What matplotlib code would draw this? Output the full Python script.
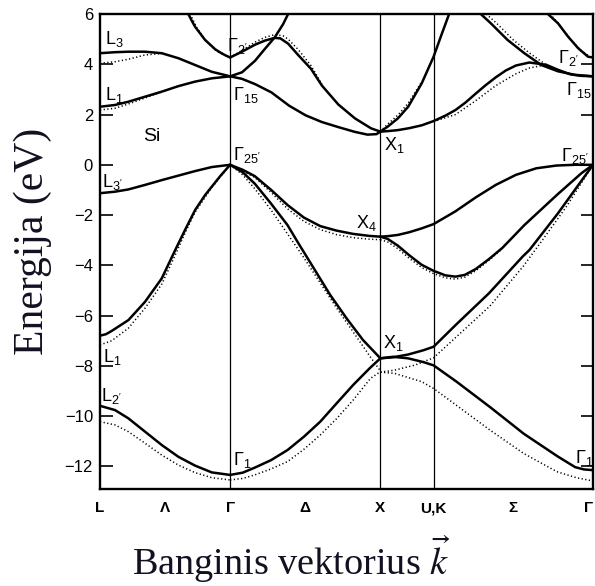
import matplotlib
matplotlib.use("Agg")
import matplotlib.pyplot as plt

plt.rcParams["font.family"] = ["Liberation Sans", "DejaVu Sans"]
plt.rcParams["mathtext.fontset"] = "custom"
plt.rcParams["mathtext.rm"] = "Liberation Sans"
plt.rcParams["mathtext.it"] = "Liberation Sans:italic"
plt.rcParams["mathtext.bf"] = "Liberation Sans:bold"

# ---- symmetry points along the path L - Gamma - X - U,K - Gamma (units of 2pi/a)
k_points = [0.0, 0.866, 1.866, 2.220, 3.281]
k_ticks = [0.0, 0.433, 0.866, 1.366, 1.866, 2.220, 2.750, 3.281]
k_tick_labels = ["L", "Λ", "Γ", "Δ", "X", "U,K", "Σ", "Γ"]
e_ticks = [-12, -10, -8, -6, -4, -2, 0, 2, 4, 6]

# ---- nonlocal pseudopotential bands (solid), energies in eV
# L - Gamma
k_lg = [0, 0.10, 0.189, 0.30, 0.411, 0.522, 0.633, 0.744, 0.866]
e_lg_v1 = [-9.59, -9.76, -10.09, -10.62, -11.15, -11.62, -11.97, -12.24, -12.34]
e_lg_v3 = [-1.13, -1.07, -0.98, -0.80, -0.61, -0.43, -0.25, -0.09, 0.0]
e_lg_c1 = [2.31, 2.38, 2.51, 2.71, 2.91, 3.13, 3.31, 3.44, 3.52]
e_lg_c2 = [4.44, 4.48, 4.50, 4.50, 4.44, 4.24, 3.97, 3.70, 3.52]
k_lg_v2 = [0, 0.04, 0.078, 0.189, 0.30, 0.411, 0.5, 0.567, 0.633, 0.70, 0.744, 0.80, 0.866]
e_lg_v2 = [-6.80, -6.74, -6.61, -6.18, -5.45, -4.52, -3.40, -2.58, -1.80, -1.20, -0.87, -0.45, 0.0]
k_lg_c3 = [0.588, 0.61, 0.633, 0.699, 0.766, 0.80, 0.833, 0.866]
e_lg_c3 = [6.0, 5.74, 5.49, 4.97, 4.60, 4.47, 4.36, 4.27]

# Gamma - X
k_gx = [0.866, 0.95, 1.03, 1.139, 1.248, 1.357, 1.466, 1.575, 1.685, 1.794, 1.866]
e_gx_v1 = [-12.34, -12.25, -12.05, -11.75, -11.35, -10.82, -10.22, -9.49, -8.76, -8.10, -7.70]
e_gx_v3 = [0.0, -0.2, -0.45, -1.0, -1.6, -2.1, -2.44, -2.62, -2.75, -2.83, -2.86]
k_gx_v2 = [0.866, 0.95, 1.03, 1.139, 1.248, 1.313, 1.423, 1.532, 1.641, 1.75, 1.866]
e_gx_v2 = [0.0, -0.3, -0.75, -1.55, -2.4, -3.05, -4.12, -5.18, -6.11, -6.97, -7.70]
k_gx_c1 = [0.866, 0.945, 1.032, 1.141, 1.259, 1.368, 1.477, 1.586, 1.696, 1.78, 1.84, 1.866]
e_gx_c1 = [3.52, 3.42, 3.21, 2.88, 2.35, 1.97, 1.70, 1.50, 1.31, 1.20, 1.22, 1.32]
k_gx_c2 = [0.866, 0.945, 1.032, 1.097, 1.163, 1.20, 1.252, 1.317, 1.404, 1.477, 1.586, 1.696, 1.804, 1.866]
e_gx_c2 = [4.27, 4.50, 4.78, 4.94, 5.05, 5.03, 4.82, 4.38, 3.82, 3.15, 2.40, 1.85, 1.45, 1.32]
k_gx_c3 = [0.866, 0.945, 1.032, 1.097, 1.163, 1.219, 1.252]
e_gx_c3 = [3.52, 3.68, 4.14, 4.61, 5.07, 5.60, 6.0]

# X - U,K - Gamma
k_xg_c1 = [1.866, 1.915, 1.983, 2.051, 2.141, 2.220, 2.276, 2.321]
e_xg_c1 = [1.32, 1.52, 1.85, 2.31, 3.24, 4.30, 5.23, 5.96]
k_xg_c2 = [1.866, 1.915, 1.983, 2.06, 2.141, 2.22, 2.30, 2.366, 2.433, 2.50, 2.567,
           2.634, 2.70, 2.768, 2.857, 2.969, 3.048, 3.13, 3.20, 3.281]
e_xg_c2 = [1.32, 1.34, 1.38, 1.46, 1.57, 1.74, 1.96, 2.18, 2.48, 2.83, 3.17,
           3.48, 3.75, 3.95, 4.07, 3.98, 3.78, 3.60, 3.54, 3.52]
k_xg_c3 = [2.534, 2.601, 2.712, 2.824, 2.937, 3.048, 3.160, 3.281]
e_xg_c3 = [6.0, 5.63, 4.97, 4.44, 3.97, 3.72, 3.58, 3.52]
k_xg_c4 = [2.981, 3.048, 3.115, 3.182, 3.248, 3.281]
e_xg_c4 = [6.0, 5.63, 5.10, 4.64, 4.30, 4.27]
k_xg_v4 = [1.866, 1.915, 1.983, 2.06, 2.141, 2.22, 2.366, 2.50, 2.634, 2.768, 2.903, 3.037, 3.16, 3.281]
e_xg_v4 = [-2.86, -2.84, -2.79, -2.68, -2.53, -2.36, -1.85, -1.30, -0.80, -0.40, -0.14, -0.03, 0.0, 0.0]
k_xg_v3 = [1.866, 1.915, 1.983, 2.058, 2.141, 2.22, 2.299, 2.366, 2.428, 2.50, 2.589,
           2.679, 2.824, 3.048, 3.205, 3.281]
e_xg_v3 = [-2.86, -2.95, -3.22, -3.60, -3.98, -4.22, -4.40, -4.45, -4.38, -4.15, -3.75,
           -3.30, -2.40, -1.16, -0.33, 0.0]
k_xg_v2 = [1.866, 1.949, 2.05, 2.152, 2.22, 2.366, 2.589, 2.813, 2.858, 3.048, 3.16, 3.281]
e_xg_v2 = [-7.70, -7.66, -7.55, -7.38, -7.24, -6.38, -5.11, -3.65, -3.39, -1.93, -1.0, 0.0]
k_xg_v1 = [1.866, 1.949, 2.05, 2.152, 2.22, 2.373, 2.60, 2.82, 3.045, 3.162, 3.22, 3.281]
e_xg_v1 = [-7.70, -7.64, -7.70, -7.85, -7.98, -8.63, -9.66, -10.70, -11.60, -12.03, -12.12, -12.15]

# ---- local pseudopotential bands (dotted)
k_lg_d1 = [0, 0.10, 0.189, 0.30, 0.411, 0.522, 0.633, 0.744, 0.866]
e_lg_d1 = [-10.22, -10.35, -10.62, -11.08, -11.55, -11.95, -12.25, -12.45, -12.54]
k_lg_d2 = [0, 0.078, 0.189, 0.30, 0.411, 0.5, 0.567, 0.633, 0.744, 0.866]
e_lg_d2 = [-7.17, -7.0, -6.5, -5.7, -4.75, -3.6, -2.7, -1.88, -0.9, 0.0]
k_lg_d3 = [0, 0.10, 0.189, 0.30, 0.411]
e_lg_d3 = [2.18, 2.25, 2.42, 2.66, 2.90]
k_lg_d4 = [0, 0.10, 0.189, 0.30, 0.411]
e_lg_d4 = [4.04, 4.10, 4.20, 4.37, 4.43]
k_lg_d5 = [0.60, 0.645, 0.71, 0.78, 0.866]
e_lg_d5 = [6.0, 5.45, 4.9, 4.5, 4.27]
k_gx_d1 = [0.866, 0.95, 1.03, 1.139, 1.248, 1.357, 1.466, 1.575, 1.685, 1.80, 1.866]
e_gx_d1 = [-12.54, -12.48, -12.34, -12.1, -11.81, -11.32, -10.75, -10.1, -9.36, -8.5, -8.23]
k_gx_d2 = [0.866, 0.95, 1.03, 1.139, 1.248, 1.357, 1.466, 1.575, 1.685, 1.794, 1.866]
e_gx_d2 = [0.0, -0.4, -0.95, -1.8, -2.75, -3.7, -4.7, -5.7, -6.65, -7.6, -8.2]
k_gx_d3 = [0.866, 1.03, 1.139, 1.248, 1.357, 1.466, 1.575, 1.685, 1.794, 1.866]
e_gx_d3 = [0.0, -0.5, -1.1, -1.75, -2.25, -2.58, -2.78, -2.9, -2.96, -2.98]
k_gx_d4 = [0.866, 0.945, 1.032, 1.097, 1.163, 1.219, 1.252, 1.317, 1.404, 1.477]
e_gx_d4 = [4.27, 4.55, 4.88, 5.07, 5.18, 5.13, 5.0, 4.6, 3.95, 3.2]
k_xg_d1 = [1.866, 1.915, 1.983, 2.051, 2.141]
e_xg_d1 = [1.32, 1.62, 1.98, 2.45, 3.3]
k_xg_d2 = [2.22, 2.366, 2.50, 2.634, 2.768, 2.857, 2.969]
e_xg_d2 = [1.72, 2.0, 2.55, 3.15, 3.62, 3.85, 3.98]
k_xg_d3 = [2.57, 2.64, 2.75, 2.86, 2.97, 3.05]
e_xg_d3 = [6.0, 5.63, 4.97, 4.44, 3.97, 3.72]
k_xg_d4 = [2.995, 3.06, 3.13, 3.2, 3.281]
e_xg_d4 = [6.0, 5.55, 5.0, 4.55, 4.22]
k_xg_d5 = [1.866, 1.915, 1.983, 2.058, 2.141, 2.22, 2.299, 2.366, 2.428, 2.50, 2.589, 2.679]
e_xg_d5 = [-2.98, -3.07, -3.34, -3.72, -4.09, -4.33, -4.50, -4.55, -4.47, -4.22, -3.80, -3.33]
k_xg_d6 = [1.866, 1.961, 2.096, 2.22, 2.371, 2.595, 2.818, 2.95, 3.10, 3.281]
e_xg_d6 = [-8.25, -8.17, -7.97, -7.68, -6.85, -5.62, -4.03, -2.95, -1.7, 0.0]
k_xg_d7 = [1.866, 1.961, 2.141, 2.22, 2.37, 2.594, 2.818, 3.04, 3.17, 3.281]
e_xg_d7 = [-8.25, -8.3, -8.63, -8.9, -9.56, -10.55, -11.48, -12.21, -12.45, -12.58]

solid_bands = [
    (k_lg, e_lg_v1), (k_lg_v2, e_lg_v2), (k_lg, e_lg_v3), (k_lg, e_lg_c1),
    (k_lg, e_lg_c2), (k_lg_c3, e_lg_c3),
    (k_gx, e_gx_v1), (k_gx_v2, e_gx_v2), (k_gx, e_gx_v3), (k_gx_c1, e_gx_c1),
    (k_gx_c2, e_gx_c2), (k_gx_c3, e_gx_c3),
    (k_xg_c1, e_xg_c1), (k_xg_c2, e_xg_c2), (k_xg_c3, e_xg_c3), (k_xg_c4, e_xg_c4),
    (k_xg_v4, e_xg_v4), (k_xg_v3, e_xg_v3), (k_xg_v2, e_xg_v2), (k_xg_v1, e_xg_v1),
]
dotted_bands = [
    (k_lg_d1, e_lg_d1), (k_lg_d2, e_lg_d2), (k_lg_d3, e_lg_d3), (k_lg_d4, e_lg_d4),
    (k_lg_d5, e_lg_d5), (k_gx_d1, e_gx_d1), (k_gx_d2, e_gx_d2), (k_gx_d3, e_gx_d3),
    (k_gx_d4, e_gx_d4), (k_xg_d1, e_xg_d1), (k_xg_d2, e_xg_d2), (k_xg_d3, e_xg_d3),
    (k_xg_d4, e_xg_d4), (k_xg_d5, e_xg_d5), (k_xg_d6, e_xg_d6), (k_xg_d7, e_xg_d7),
]

# ---- point-group labels: (text, k, E)
point_labels = [
    (r"$\mathrm{L}_3$", 0.033, 4.81),
    (r"$\mathrm{L}_1$", 0.033, 2.58),
    (r"$\mathrm{L}_{3'}$", 0.013, -0.88),
    (r"$\mathrm{L}_1$", 0.022, -7.85),
    (r"$\mathrm{L}_{2'}$", 0.007, -9.40),
    (r"$\Gamma_{2'}$", 0.846, 4.54),
    (r"$\Gamma_{15}$", 0.886, 2.58),
    (r"$\Gamma_{25'}$", 0.886, 0.19),
    (r"$\Gamma_1$", 0.888, -11.95),
    (r"$\mathrm{X}_1$", 1.893, 0.59),
    (r"$\mathrm{X}_4$", 1.706, -2.53),
    (r"$\mathrm{X}_1$", 1.882, -7.30),
    (r"$\Gamma_{2'}$", 3.048, 4.05),
    (r"$\Gamma_{15}$", 3.104, 2.78),
    (r"$\Gamma_{25'}$", 3.071, 0.16),
    (r"$\Gamma_1$", 3.160, -11.88),
]

fig = plt.figure(figsize=(5.95, 5.86), dpi=100)
ax = fig.add_axes([100 / 595, (586 - 489) / 586, 493 / 595, 475 / 586])
ax.set_xlim(k_points[0], k_points[-1])
ax.set_ylim(-12.9, 6.0)

for kp in k_points[1:-1]:
    ax.axvline(kp, color="black", lw=0.9, zorder=1)

for kk, ee in dotted_bands:
    ax.plot(kk, ee, color="black", lw=1.1, ls=(0, (0.8, 1.6)), zorder=2,
            solid_capstyle="round")
for kk, ee in solid_bands:
    ax.plot(kk, ee, color="black", lw=1.8, zorder=3, solid_joinstyle="round",
            solid_capstyle="round")

for txt, kx, ey in point_labels:
    ax.text(kx, ey, txt, fontsize=13, ha="left", va="baseline", color="black", zorder=4)
ax.text(0.286, 0.95, "Si", fontsize=14, ha="left", va="baseline", color="black")

for sp in ax.spines.values():
    sp.set_linewidth(1.7)

ax.set_yticks(e_ticks)
ax.set_yticklabels([f"{v}".replace("-", "\u2212") for v in e_ticks])
ax.tick_params(axis="y", direction="in", length=9, width=1.2, left=True, right=True,
               pad=5, labelsize=12)
ax.set_xticks(k_ticks)
ax.set_xticklabels(k_tick_labels, fontweight="bold", fontsize=11)
ax.tick_params(axis="x", length=0, pad=9)
# keep the closing Gamma label inside the canvas
ax.get_xticklabels()[-1].set_horizontalalignment("right")

fig.text(33 / 595, 1 - 241 / 586, "Energija (eV)", rotation=90, ha="center", va="center",
         fontsize=30, family="Liberation Serif", color="#111122")
fig.text(291 / 595, 1 - 575 / 586, r"Banginis vektorius $\vec{k}$", ha="center",
         va="baseline", fontsize=27.5, family="Liberation Serif", color="#111122",
         math_fontfamily="stix")

fig.savefig("out.png", dpi=100)
